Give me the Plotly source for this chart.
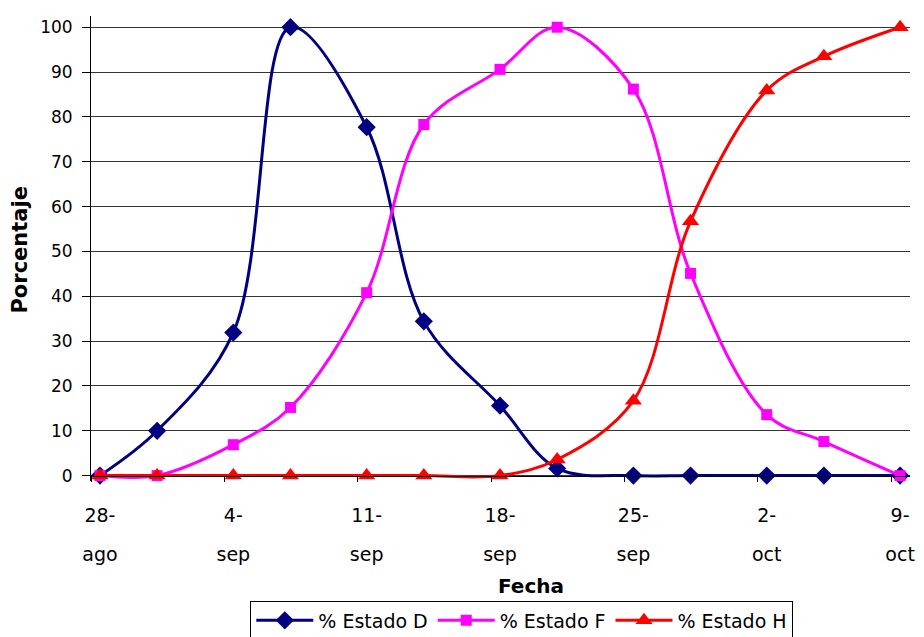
import plotly.graph_objects as go

dates = ['2008-08-28', '2008-08-31', '2008-09-04', '2008-09-07', '2008-09-11', '2008-09-14',
         '2008-09-18', '2008-09-21', '2008-09-25', '2008-09-28', '2008-10-02', '2008-10-05', '2008-10-09']
estado_d = [0, 10.0, 31.9, 100, 77.7, 34.4, 15.6, 1.6, 0, 0, 0, 0, 0]
estado_f = [0, 0, 6.9, 15.2, 40.8, 78.3, 90.6, 100, 86.2, 45.1, 13.6, 7.6, 0]
estado_h = [0, 0, 0, 0, 0, 0, 0, 3.6, 16.7, 56.7, 85.9, 93.5, 100]

tick_dates = ['2008-08-28', '2008-09-04', '2008-09-11', '2008-09-18', '2008-09-25', '2008-10-02', '2008-10-09']
tick_top = ['28-', '4-', '11-', '18-', '25-', '2-', '9-']
tick_bottom = ['ago', 'sep', 'sep', 'sep', 'sep', 'oct', 'oct']
y_ticks = list(range(0, 101, 10))

FONT = 'DejaVu Sans'
series = [
    ('% Estado D', estado_d, '#000080', 'diamond', 14),
    ('% Estado F', estado_f, '#FF00FF', 'square', 11),
    ('% Estado H', estado_h, '#FF0000', 'triangle-up', 15),
]

fig = go.Figure()
for name, vals, color, sym, size in series:
    fig.add_trace(go.Scatter(
        x=dates, y=vals, name=name, mode='lines+markers',
        line=dict(color=color, width=3, shape='spline', smoothing=1),
        marker=dict(symbol=sym, size=size, color=color),
        cliponaxis=False,
    ))

# invisible trace for second line of x tick labels
fig.add_trace(go.Scatter(x=[dates[0]], y=[0], xaxis='x2', showlegend=False,
                         mode='markers', marker=dict(opacity=0), hoverinfo='skip'))

yr = [-1.2, 102.5]
xr = ['2008-08-27 12:43', '2008-10-09 12:29']
x_pos = (0 - yr[0]) / (yr[1] - yr[0])

fig.update_layout(
    width=924, height=637,
    margin=dict(l=91, r=14, t=16, b=156, autoexpand=False),
    paper_bgcolor='white', plot_bgcolor='white',
    font=dict(family=FONT, color='black'),
    showlegend=True,
    legend=dict(orientation='h', x=0.526, xanchor='center', y=-0.257, yanchor='top',
                bordercolor='black', borderwidth=1, font=dict(size=19, family=FONT),
                itemwidth=57, tracegroupgap=0),
    xaxis=dict(type='date', range=xr, anchor='free', position=x_pos, automargin=False,
               showline=True, linecolor='black', linewidth=1, showgrid=False,
               tickvals=tick_dates, ticktext=tick_top, ticks='', ticklabelstandoff=23,
               tickfont=dict(size=19, family=FONT),
               minor=dict(tick0=xr[0], dtick=7 * 86400000, ticks='outside', ticklen=5,
                          tickcolor='black', showgrid=False)),
    xaxis2=dict(type='date', range=xr, overlaying='x', anchor='free', position=x_pos,
                automargin=False, side='bottom', showline=False, showgrid=False,
                tickvals=tick_dates, ticktext=tick_bottom, ticks='', ticklabelstandoff=65,
                tickfont=dict(size=19, family=FONT)),
    yaxis=dict(range=yr, tickvals=y_ticks, showline=True, linecolor='black', linewidth=1,
               automargin=False,
               showgrid=True, gridcolor='#333', gridwidth=1, zeroline=False,
               ticks='outside', ticklen=8, tickcolor='black', ticklabelstandoff=6,
               tickfont=dict(size=17, family=FONT)),
    annotations=[
        dict(text='<b>Fecha</b>', xref='paper', yref='paper', x=0.537, y=-0.226,
             xanchor='center', yanchor='middle', showarrow=False, font=dict(size=20, family=FONT)),
        dict(text='<b>Porcentaje</b>', xref='paper', yref='paper', x=-0.0865, y=0.496,
             xanchor='center', yanchor='middle', textangle=-90, showarrow=False,
             font=dict(size=21, family=FONT)),
    ],
)

fig.write_html('out.html')
